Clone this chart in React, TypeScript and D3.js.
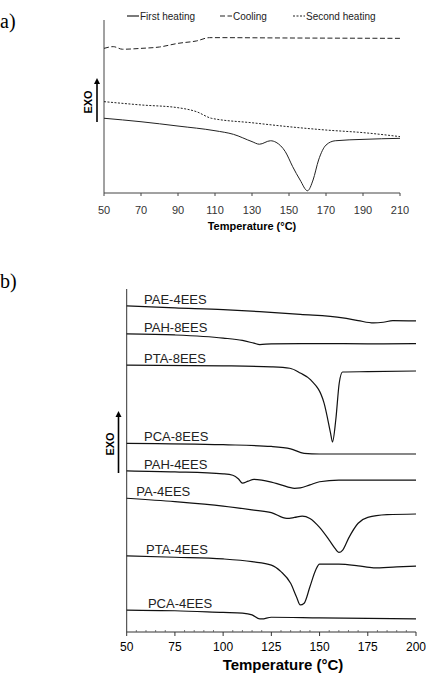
import React from "react";
import { scaleLinear, line, curveMonotoneX } from "d3";

// panel (a): heat flow, arbitrary units
const ticksA = [50, 70, 90, 110, 130, 150, 170, 190, 210];
const legendA = ["First heating", "Cooling", "Second heating"];

const firstHeating: [number, number][] = [
  [50, 43.2], [70, 41.2], [90, 38.7], [110, 36.0], [120, 33.9], [130, 29.7],
  [134, 28.2], [140, 30.2], [143, 29.3], [148, 23.9], [152, 15.2], [156, 7.5],
  [160, 1.3], [163, 7.5], [166, 19.1], [170, 27.7], [175, 30.2], [190, 31.0], [210, 31.6]
];
const cooling: [number, number][] = [
  [50, 83.6], [55, 84.6], [60, 83.1], [70, 83.6], [80, 84.4], [90, 86.5],
  [100, 87.9], [107, 89.8], [110, 89.8], [150, 89.6], [210, 89.4]
];
const secondHeating: [number, number][] = [
  [50, 52.8], [70, 50.9], [90, 49.3], [100, 47.0], [108, 43.2], [110, 42.8],
  [130, 40.6], [150, 38.3], [170, 36.4], [190, 34.9], [210, 32.6]
];

// panel (b)
const ticksB = [50, 75, 100, 125, 150, 175, 200];
const samplesB = ["PAE-4EES", "PAH-8EES", "PTA-8EES", "PCA-8EES", "PAH-4EES", "PA-4EES", "PTA-4EES", "PCA-4EES"];
const labelTempB = [59, 59, 59, 59, 59, 55, 60, 61];

const pae4: [number, number][] = [
  [50, 95.1], [75, 94.5], [100, 94.0], [119, 93.4], [140, 92.6], [162, 91.6],
  [170, 90.8], [178, 90.1], [183, 90.3], [188, 90.8], [200, 90.7]
];
const pah8: [number, number][] = [
  [50, 86.9], [75, 86.6], [100, 85.7], [110, 85.0], [116, 84.2], [119, 83.8],
  [125, 84.0], [150, 84.1], [175, 84.0], [200, 84.1]
];
const pta8: [number, number][] = [
  [50, 77.8], [100, 77.6], [125, 77.3], [134.6, 76.9], [140, 75.5], [145.4, 73.5],
  [152.3, 66.8], [155.7, 58.0], [156.7, 55.4], [158.4, 61.8], [160.2, 72.6],
  [161.9, 75.8], [175, 75.9], [200, 76.1]
];
const pca8: [number, number][] = [
  [50, 55.0], [100, 54.6], [125, 54.1], [135, 53.4], [142, 52.1], [150, 51.9], [200, 51.9]
];
const pah4: [number, number][] = [
  [50, 47.0], [75, 46.7], [100, 46.1], [105, 45.7], [108, 44.6], [110, 43.4],
  [113, 44.0], [116, 44.5], [120, 44.3], [125, 43.7], [130, 42.9], [137, 41.9],
  [140, 42.0], [145, 42.9], [150, 43.8], [160, 44.3], [200, 44.3]
];
const pa4: [number, number][] = [
  [50, 39.0], [75, 38.0], [100, 36.7], [115, 35.6], [125, 34.8], [133, 33.1],
  [137, 33.4], [141, 33.8], [145, 33.1], [150, 30.5], [155, 26.8], [158, 24.4],
  [160, 23.2], [162, 23.9], [165, 27.3], [170, 31.7], [175, 33.4], [185, 34.2], [200, 34.4]
];
const pta4: [number, number][] = [
  [50, 22.2], [75, 21.8], [100, 21.3], [115, 20.5], [125, 19.5], [130, 17.6],
  [135, 14.2], [138, 10.3], [140, 7.9], [142, 8.4], [145, 13.2], [148, 18.1],
  [150, 19.8], [160, 19.8], [170, 19.3], [178, 18.7], [190, 19.0], [200, 19.2]
];
const pca4: [number, number][] = [
  [50, 6.4], [75, 6.2], [100, 5.7], [110, 5.5], [115, 5.0], [119, 3.8],
  [120, 3.8], [125, 4.3], [150, 4.1], [200, 3.8]
];

const seriesB = [pae4, pah8, pta8, pca8, pah4, pa4, pta4, pca4];

const font = "'Liberation Sans', Arial, sans-serif";
const serif = "'Liberation Serif', 'Times New Roman', serif";

const Exo: React.FC<{ x: number; top: number; bottom: number }> = ({ x, top, bottom }) => (
  <g>
    <line x1={x} x2={x} y1={bottom} y2={top + 4} stroke="#000" strokeWidth={1.6} />
    <path d={`M${x - 3},${top + 6} L${x},${top} L${x + 3},${top + 6} Z`} fill="#000" />
    <text
      transform={`translate(${x - 5},${(top + bottom) / 2 + 2}) rotate(-90)`}
      textAnchor="middle"
      fontSize={11}
      fontWeight="bold"
      fontFamily={font}
    >
      EXO
    </text>
  </g>
);

export default function App() {
  const xA = scaleLinear().domain([50, 210]).range([104, 400]);
  const yA = scaleLinear().domain([0, 100]).range([193, 20]);
  const xB = scaleLinear().domain([50, 200]).range([126.7, 416]);
  const yB = scaleLinear().domain([0, 100]).range([632, 289]);

  const lineA = line<[number, number]>().x((d) => xA(d[0])).y((d) => yA(d[1])).curve(curveMonotoneX);
  const lineB = line<[number, number]>().x((d) => xB(d[0])).y((d) => yB(d[1])).curve(curveMonotoneX);

  const legendX = [127, 220, 293];
  const legendDash = ["none", "5,2.5", "2,1.5"];
  const seriesA = [firstHeating, cooling, secondHeating];

  const minorB: number[] = [];
  for (let t = 55; t < 200; t += 5) if (t % 25 !== 0) minorB.push(t);

  return (
    <svg
      width={426}
      height={678}
      style={{ position: "absolute", left: 0, top: 0, background: "#fff" }}
    >
      {/* panel letters */}
      <text x={0} y={28} fontSize={20} fontFamily={serif}>a)</text>
      <text x={0} y={288} fontSize={20} fontFamily={serif}>b)</text>

      {/* ---------- panel a ---------- */}
      <g>
        {legendA.map((name, i) => (
          <g key={name}>
            <line
              x1={legendX[i]}
              x2={legendX[i] + 12}
              y1={16}
              y2={16}
              stroke="#222"
              strokeWidth={1.2}
              strokeDasharray={legendDash[i]}
            />
            <text x={legendX[i] + 13} y={16} dominantBaseline="central" fontSize={10} fontFamily={font} fill="#222">
              {name}
            </text>
          </g>
        ))}
        <line x1={xA(50)} x2={xA(50)} y1={yA(100)} y2={yA(0)} stroke="#444" strokeWidth={1} />
        <line x1={xA(50)} x2={xA(210)} y1={yA(0)} y2={yA(0)} stroke="#444" strokeWidth={1} />
        {ticksA.map((t) => (
          <g key={t}>
            <line x1={xA(t)} x2={xA(t)} y1={yA(0)} y2={yA(0) + 3} stroke="#444" />
            <text x={xA(t)} y={210} textAnchor="middle" dominantBaseline="central" fontSize={11} fontFamily={font} fill="#333">
              {t}
            </text>
          </g>
        ))}
        <text x={252} y={226} textAnchor="middle" dominantBaseline="central" fontSize={11} fontWeight="bold" fontFamily={font}>
          Temperature (°C)
        </text>
        <Exo x={97} top={78} bottom={122} />
        {seriesA.map((s, i) => (
          <path
            key={legendA[i]}
            d={lineA(s) ?? ""}
            fill="none"
            stroke="#222"
            strokeWidth={1}
            strokeDasharray={legendDash[i]}
          />
        ))}
      </g>

      {/* ---------- panel b ---------- */}
      <g>
        <line x1={xB(50)} x2={xB(50)} y1={yB(100)} y2={yB(0)} stroke="#333" strokeWidth={1} />
        <line x1={xB(50)} x2={xB(200)} y1={yB(0)} y2={yB(0)} stroke="#333" strokeWidth={1} />
        {minorB.map((t) => (
          <line key={t} x1={xB(t)} x2={xB(t)} y1={yB(0)} y2={yB(0) - 2} stroke="#555" strokeWidth={0.8} />
        ))}
        {ticksB.map((t) => (
          <g key={t}>
            <line x1={xB(t)} x2={xB(t)} y1={yB(0)} y2={yB(0) + 4} stroke="#333" />
            <text x={xB(t)} y={647} textAnchor="middle" dominantBaseline="central" fontSize={12} fontFamily={font}>
              {t}
            </text>
          </g>
        ))}
        <text x={283} y={664} textAnchor="middle" dominantBaseline="central" fontSize={15} fontWeight="bold" fontFamily={font}>
          Temperature (°C)
        </text>
        <Exo x={118.5} top={411} bottom={473} />
        {seriesB.map((s, i) => (
          <g key={samplesB[i]}>
            <path d={lineB(s) ?? ""} fill="none" stroke="#111" strokeWidth={1.2} />
            <text
              x={xB(labelTempB[i])}
              y={yB(s[0][1]) - 6.5}
              dominantBaseline="central"
              fontSize={13}
              fontFamily={font}
              fill="#222"
            >
              {samplesB[i]}
            </text>
          </g>
        ))}
      </g>
    </svg>
  );
}
